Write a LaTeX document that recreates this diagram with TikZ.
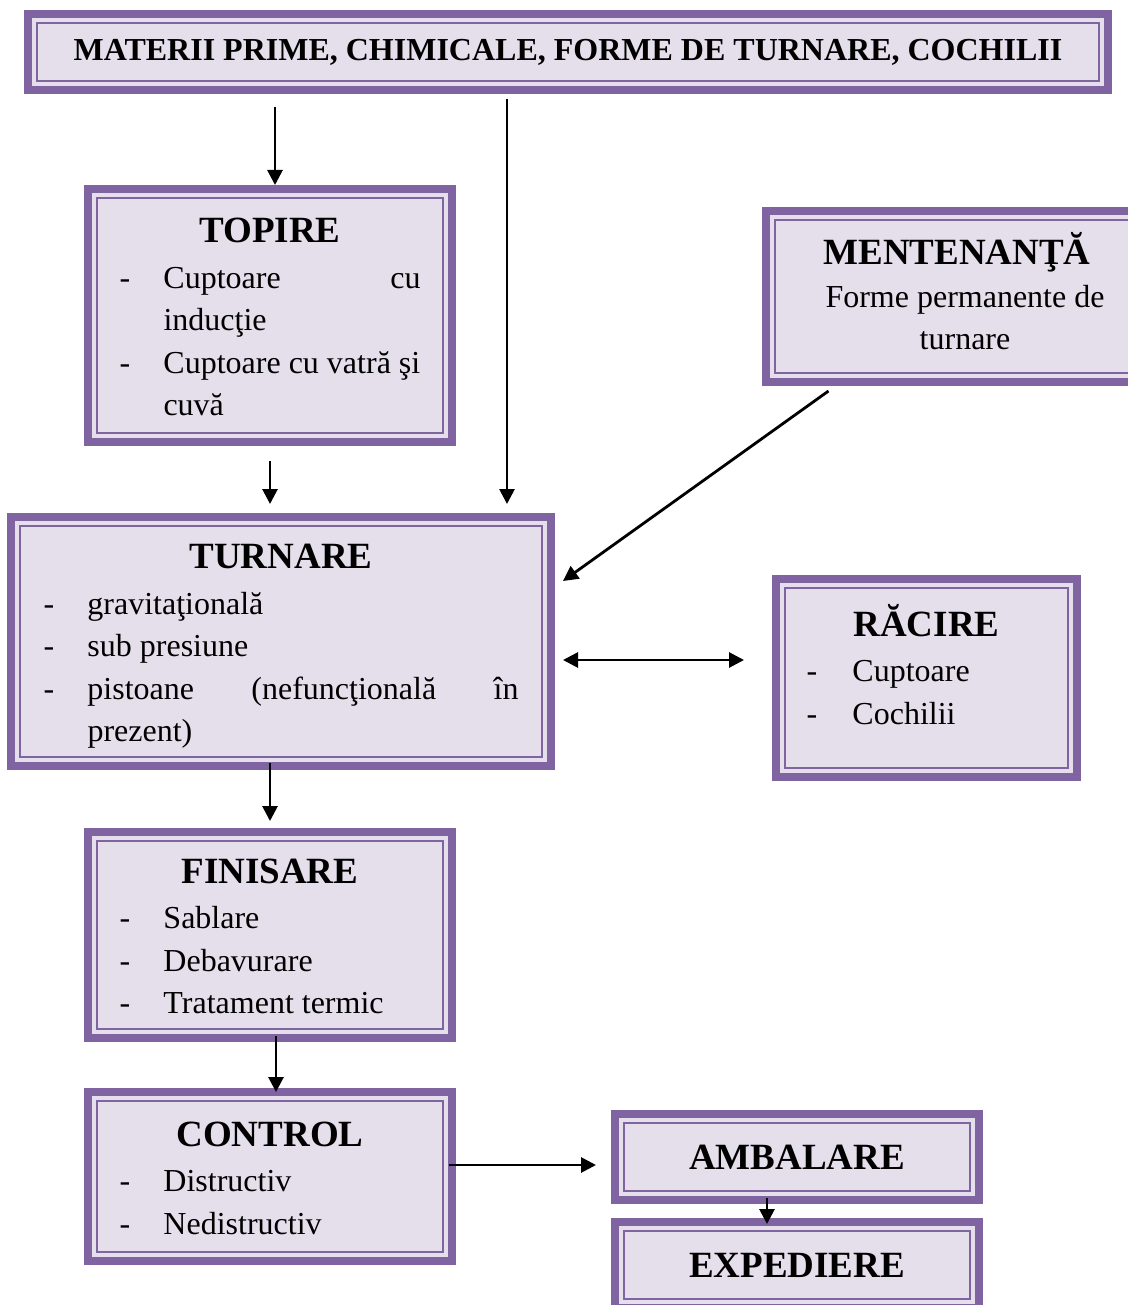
\documentclass[tikz,border=0pt]{standalone}
\usepackage{fontspec}
\setmainfont{Liberation Serif}
\usetikzlibrary{arrows.meta,backgrounds}
\definecolor{purp}{HTML}{8064A2}
\definecolor{lav}{HTML}{E5DFEC}
\newcommand{\ttl}[1]{{\bfseries\fontsize{18.5}{22}\selectfont #1}}
\newcommand{\ttlrow}[1]{\multicolumn{2}{c}{\ttl{#1}\rule{0pt}{20pt}}\\[1.5pt]}

\begin{document}
\begin{tikzpicture}[x=0.5pt,y=-0.5pt,
    every node/.style={font=\fontsize{16}{21.25}\selectfont},
    stage/.style={draw=purp, line width=1pt, fill=lav, inner sep=0pt},
    frame/.style={draw=purp, line width=4pt, fill=lav},
    arr/.style={-{Triangle[length=7.5pt,width=7.5pt]}, line width=1.4pt},
    darr/.style={{Triangle[length=7.5pt,width=7.5pt]}-{Triangle[length=7.5pt,width=7.5pt]}, line width=1.4pt}]
    \useasboundingbox (0,0) rectangle (1128,1305);

    \node[stage, minimum width=531pt, minimum height=29pt] (top) at (568,52)
        {\bfseries MATERII PRIME, CHIMICALE, FORME DE TURNARE, COCHILII};
    \node[stage, minimum width=173pt, minimum height=117.5pt] (topire) at (270,315.5) {%
        \begin{tabular}{@{}p{22pt}@{}p{128.5pt}@{}}
        \ttlrow{TOPIRE}
        - & Cuptoare \hfill cu\\
          & inducţie\\
        - & Cuptoare cu vatră şi\\
          & cuvă
        \end{tabular}};
    \node[stage, minimum width=182.5pt, minimum height=76.5pt] (menten) at (957,296.5) {%
        \begin{tabular}{@{}c@{}}
        \ttl{MENTENANŢĂ}\rule{0pt}{17pt}\\
        \hspace*{8pt}Forme permanente de\\
        \hspace*{8pt}turnare
        \end{tabular}};
    \node[stage, minimum width=261pt, minimum height=115.5pt] (turnare) at (281,641.5) {%
        \begin{tabular}{@{}p{22pt}@{}p{215.5pt}@{}}
        \ttlrow{TURNARE}
        - & gravitaţională\\
        - & sub presiune\\
        - & pistoane \hfill (nefuncţională \hfill în\\
          & prezent)
        \end{tabular}};
    \node[stage, minimum width=141.5pt, minimum height=90pt] (racire) at (926.5,678) {%
        \begin{tabular}{@{}p{23pt}@{}p{97pt}@{}}
        \ttlrow{RĂCIRE}
        - & Cuptoare\\
        - & Cochilii\rule[-18pt]{0pt}{1pt}
        \end{tabular}};
    \node[stage, minimum width=173pt, minimum height=94pt] (finisare) at (270,935) {%
        \begin{tabular}{@{}p{22pt}@{}p{128.5pt}@{}}
        \ttlrow{FINISARE}
        - & Sablare\\
        - & Debavurare\\
        - & Tratament termic
        \end{tabular}};
    \node[stage, minimum width=173pt, minimum height=75.5pt] (control) at (270,1176.5) {%
        \begin{tabular}{@{}p{22pt}@{}p{128.5pt}@{}}
        \ttlrow{CONTROL}
        - & Distructiv\\
        - & Nedistructiv
        \end{tabular}};
    \node[stage, minimum width=173pt, minimum height=34pt] (ambal) at (797,1157) {\ttl{AMBALARE}};
    \node[stage, minimum width=173pt, minimum height=34pt] (exped) at (797,1265) {\ttl{EXPEDIERE}};

    % double frames
    \begin{pgfonlayer}{background}
        \fill[white] (0,0) rectangle (1128,1305);
        \foreach \n in {top,topire,menten,turnare,racire,finisare,control,ambal,exped}
            \draw[frame] ([shift={(-4pt,4pt)}]\n.north west) rectangle ([shift={(4pt,-4pt)}]\n.south east);
    \end{pgfonlayer}

    % connectors
    \coordinate (xa) at (275,0);
    \coordinate (xb) at (507,0);
    \draw[arr, shorten <=12.5pt, shorten >=6pt] (top.south -| xa) -- (topire.north -| xa);
    \draw[arr, shorten <=8.5pt, shorten >=10.5pt] (top.south -| xb) -- (turnare.north -| xb);
    \draw[arr, shorten <=13.5pt, shorten >=10.5pt] (topire.south) -- (turnare.north -| topire.south);
    \draw[arr] ([xshift=27.5pt,yshift=-8.5pt]menten.south west) -- ([xshift=10pt,yshift=-28pt]turnare.north east);
    \draw[darr] ([xshift=10pt,yshift=-9.25pt]turnare.east) -- ([xshift=-20pt,yshift=9pt]racire.west);
    \draw[arr, shorten <=2.5pt, shorten >=9.5pt] (turnare.south -| finisare.north) -- (finisare.north);
    \draw[arr, shorten <=3pt, shorten >=4pt] ([xshift=3pt]finisare.south) -- ([xshift=3pt]control.north);
    \draw[arr] ([xshift=2.5pt,yshift=5.75pt]control.east) -- ([xshift=-13.5pt,yshift=-4pt]ambal.west);
    \draw[arr, shorten <=3pt, shorten >=3pt] ([xshift=-15pt]ambal.south) -- ([xshift=-15pt]exped.north);
\end{tikzpicture}
\end{document}
